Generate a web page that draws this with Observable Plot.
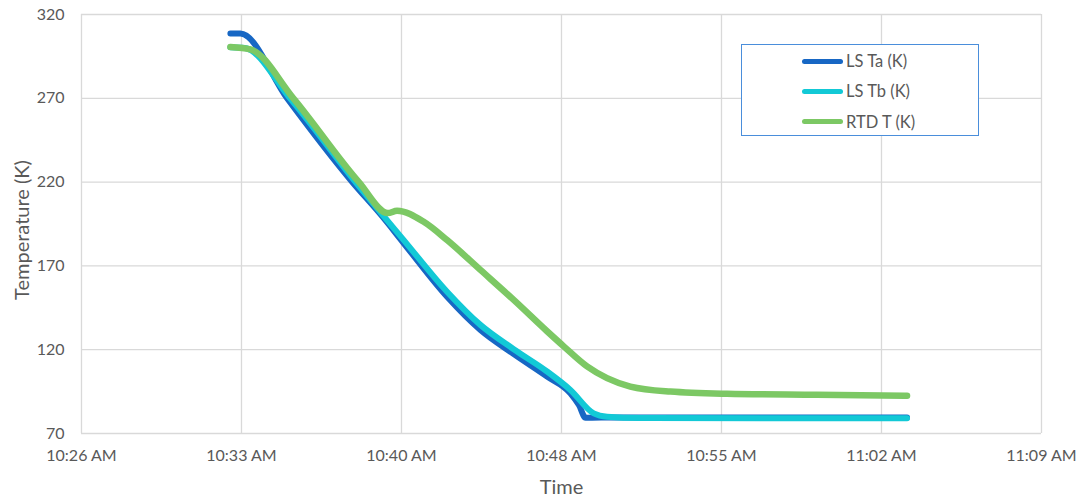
<!DOCTYPE html>
<html>
<head>
<meta charset="utf-8">
<script src="https://cdn.jsdelivr.net/npm/d3@7"></script>
<script src="https://cdn.jsdelivr.net/npm/@observablehq/plot@0.6"></script>
<style>
  html, body { margin: 0; padding: 0; background: #fff; }
  #chart { position: relative; width: 1088px; height: 502px; font-family: Lato, "Open Sans", sans-serif; }
  #legend {
    position: absolute; left: 741px; top: 44px; width: 238px; height: 92px;
    border: 1.3px solid #4a8edb; background: #fff; box-sizing: border-box;
  }
  #legend .row { position: absolute; left: 60px; height: 20px; display: flex; align-items: center; }
  #legend .sw { width: 41px; height: 5px; border-radius: 3px; margin-right: 3px; }
  #legend .lab { font-size: 16.5px; color: #595959; }
</style>
</head>
<body>
<div id="chart"></div>
<script>
// Cool-down run: two level-sensor temperatures and the RTD reading (kelvin)
const lsTaTime = ["10:33:06","10:33:33","10:35:39","10:38:35","10:39:56","10:40:54","10:42:51","10:44:21","10:45:51","10:47:21","10:48:24","10:48:47","10:49:05","10:50:30","11:03:33"];
const lsTaK    = [308.6, 308.6, 270, 220, 199.5, 183.5, 151.6, 131.8, 117.4, 104, 94, 87, 79.4, 79.6, 79.6];

const lsTbTime = ["10:33:06","10:33:45","10:35:47","10:38:44","10:40:54","10:42:51","10:44:21","10:45:51","10:47:21","10:48:24","10:49:27","10:50:03","10:51:30","11:03:33"];
const lsTbK    = [300.5, 300, 270, 220, 185.4, 154.6, 134.8, 120.3, 107, 96, 82, 80, 79.2, 79.1];

const rtdTime  = ["10:33:06","10:34:00","10:35:56","10:38:53","10:40:11","10:40:36","10:41:48","10:42:51","10:44:21","10:45:51","10:47:21","10:48:06","10:49:09","10:50:03","10:51:06","10:52:54","10:55:27","10:59:30","11:03:33"];
const rtdK     = [300.6, 299.2, 270, 220, 201.5, 202.9, 196.3, 185.4, 167.6, 149.7, 131, 122, 110, 103, 98, 95, 93.7, 93.1, 92.5];

const seriesNames  = ["LS Ta (K)", "LS Tb (K)", "RTD T (K)"];
const seriesColors = ["#1767c4", "#12c9d6", "#7cc864"];

// Axis ticks: time ticks every 7.2 minutes, temperature every 50 K
const xTickTimes = ["10:26:24","10:33:36","10:40:48","10:48:00","10:55:12","11:02:24","11:09:36"];
const yTicks = [70, 120, 170, 220, 270, 320];

const at = s => new Date(`2024-01-01T${s}Z`);
const rows = (times, vals, name) => times.map((t, i) => ({time: at(t), k: vals[i], series: name}));
const ta = rows(lsTaTime, lsTaK, seriesNames[0]);
const tb = rows(lsTbTime, lsTbK, seriesNames[1]);
const rtd = rows(rtdTime, rtdK, seriesNames[2]);
const xTicks = xTickTimes.map(at);
const fmt = d3.utcFormat("%-I:%M %p");

const lineOpts = (color, w) => ({x: "time", y: "k", stroke: color, strokeWidth: w,
  curve: "monotone-x", strokeLinecap: "round", strokeLinejoin: "round"});

const plot = Plot.plot({
  width: 1088,
  height: 502,
  marginLeft: 81,
  marginRight: 47,
  marginTop: 14,
  marginBottom: 69,
  style: {fontFamily: "Lato, 'Open Sans', sans-serif", fontSize: "16px", color: "#595959", background: "#fff"},
  x: {type: "utc", domain: [xTicks[0], xTicks[xTicks.length - 1]]},
  y: {domain: [70, 320]},
  marks: [
    Plot.gridX(xTicks, {stroke: "#d9d9d9", strokeOpacity: 1, strokeWidth: 1.3}),
    Plot.gridY(yTicks, {stroke: "#d9d9d9", strokeOpacity: 1, strokeWidth: 1.3}),
    Plot.axisX(xTicks, {tickSize: 0, tickPadding: 16, tickFormat: fmt, label: null, fontSize: 16}),
    Plot.axisY(yTicks, {tickSize: 0, tickPadding: 17, label: null, fontSize: 16}),
    Plot.text(["Time"], {frameAnchor: "bottom", lineAnchor: "middle", dy: 54, fontSize: 20, fill: "#595959"}),
    Plot.text(["Temperature (K)"], {frameAnchor: "left", textAnchor: "middle", lineAnchor: "middle",
      rotate: -90, dx: -59, dy: 6, fontSize: 20, fill: "#595959"}),
    Plot.line(ta, lineOpts(seriesColors[0], 6)),
    Plot.line(tb, lineOpts(seriesColors[1], 6)),
    Plot.line(rtd, lineOpts(seriesColors[2], 6.5))
  ]
});

const chart = document.getElementById("chart");
chart.appendChild(plot);

// Legend box inside the plot area
const legend = document.createElement("div");
legend.id = "legend";
seriesNames.forEach((name, i) => {
  const row = document.createElement("div");
  row.className = "row";
  row.style.top = (6 + i * 30.3) + "px";
  const sw = document.createElement("div");
  sw.className = "sw";
  sw.style.background = seriesColors[i];
  const lab = document.createElement("span");
  lab.className = "lab";
  lab.textContent = name;
  row.appendChild(sw);
  row.appendChild(lab);
  legend.appendChild(row);
});
chart.appendChild(legend);
</script>
</body>
</html>
